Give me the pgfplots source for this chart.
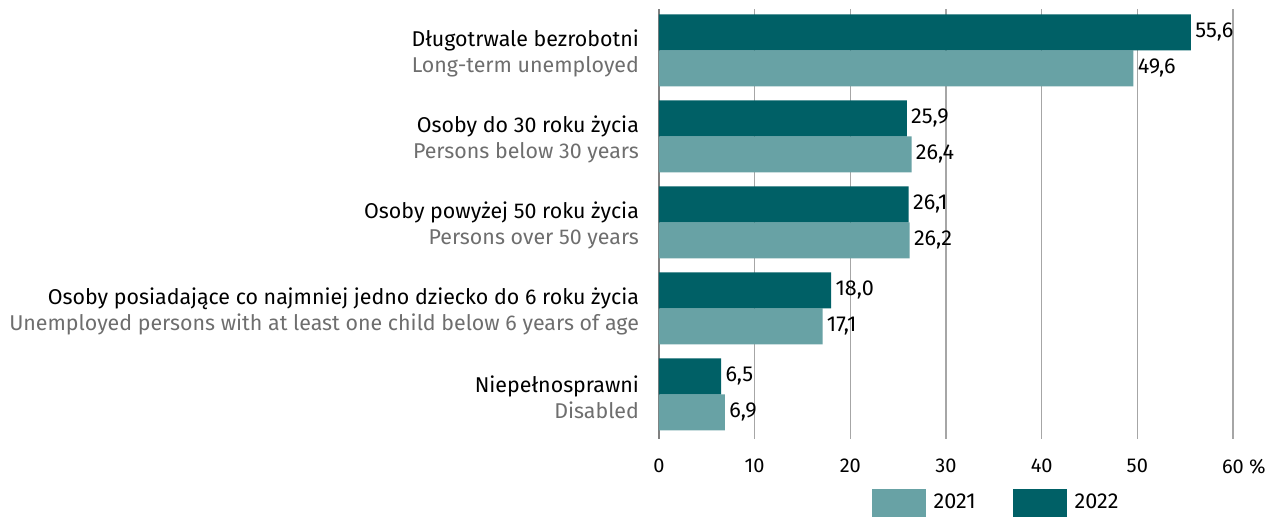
\documentclass[border=0pt]{standalone}
\usepackage{fontspec}
\setmainfont{Fira Sans}
\usepackage{pgfplots}
\pgfplotsset{compat=1.18}
\definecolor{c22}{HTML}{006066}
\definecolor{c21}{HTML}{68A2A5}
\definecolor{lbl}{HTML}{6E6E6E}
\definecolor{gridc}{HTML}{A6A6A6}
\definecolor{axc}{HTML}{808080}
\begin{document}
\fontsize{10}{13}\selectfont
\begin{tikzpicture}
\useasboundingbox (-329.5pt,4.5pt) rectangle (303pt,-253.5pt);
\begin{axis}[
  at={(0,0)}, anchor=north west,
  scale only axis, width=287pt, height=215pt,
  xbar, bar width=0.4186,
  xmin=0, xmax=60, ymin=-0.48, ymax=4.52, y dir=reverse,
  clip=false,
  xtick={0,10,...,60},
  xticklabels={0,10,20,30,40,50,60\rlap{ \%}},
  ytick={0,1,2,3,4},
  yticklabels={
    {Długotrwale bezrobotni\\\textcolor{lbl}{Long-term unemployed}},
    {Osoby do 30 roku życia\\\textcolor{lbl}{Persons below 30 years}},
    {Osoby powyżej 50 roku życia\\\textcolor{lbl}{Persons over 50 years}},
    {Osoby posiadające co najmniej jedno dziecko do 6 roku życia\\\textcolor{lbl}{Unemployed persons with at least one child below 6 years of age}},
    {Niepełnosprawni\\\textcolor{lbl}{Disabled}}
  },
  yticklabel style={align=right, font=\fontsize{10.7}{13}\selectfont, xshift=-6.5pt, yshift=-1.5pt},
  xticklabel style={font=\fontsize{10}{12}\selectfont, yshift=-6.5pt},
  major tick length=0pt,
  axis lines*=left,
  x axis line style={draw=none},
  y axis line style={draw=axc, line width=0.8pt},
  xmajorgrids, grid style={draw=gridc, line width=0.7pt},
  /pgf/number format/.cd, use comma, fixed, fixed zerofill, precision=1, assume math mode=true,
  /pgfplots/.cd,
  nodes near coords,
  every node near coord/.append style={font=\fontsize{10.8}{12}\selectfont, text=black, inner sep=2pt},
  legend style={at={(0.589,-0.149)}, anchor=center, draw=none, fill=none,
    legend columns=2, font=\fontsize{10.8}{12}\selectfont,
    /tikz/every odd column/.append style={column sep=2pt},
    /tikz/every even column/.append style={column sep=16.5pt}},
  legend image code/.code={\fill[#1, draw=none] (0pt,-7pt) rectangle (27pt,7pt);},
]
\addplot[fill=c21, draw=none, bar shift=0.2093] coordinates {(49.6,0) (26.4,1) (26.2,2) (17.1,3) (6.9,4)};
\addplot[fill=c22, draw=none, bar shift=-0.2093] coordinates {(55.6,0) (25.9,1) (26.1,2) (18.0,3) (6.5,4)};
\legend{2021,2022}
\end{axis}
\end{tikzpicture}
\end{document}
